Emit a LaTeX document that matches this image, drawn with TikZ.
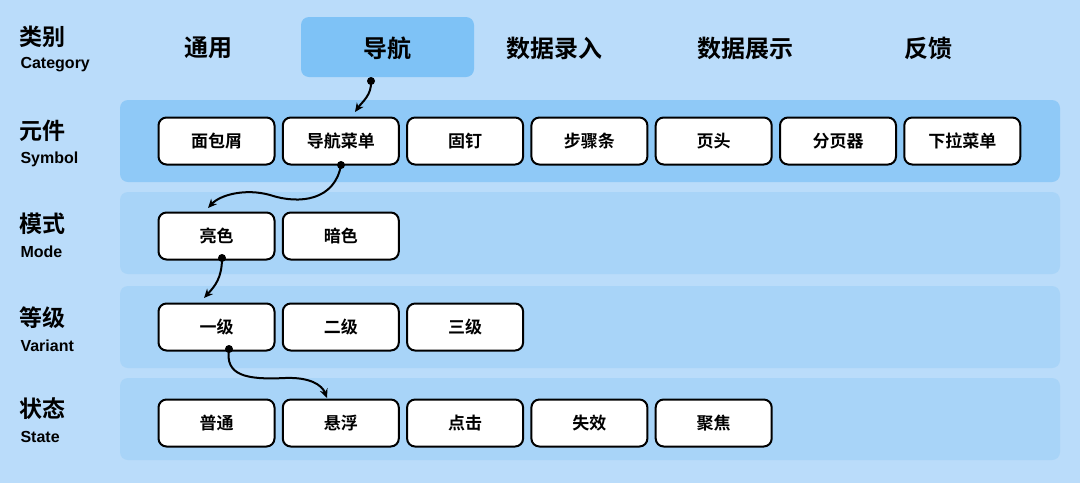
\documentclass[tikz,border=0pt]{standalone}
\usepackage{fontspec}
\setmainfont{Liberation Sans}
\newfontfamily\cjk{Noto Sans CJK SC Bold}
\usetikzlibrary{arrows.meta}
\definecolor{bg}{HTML}{BADCFA}
\definecolor{bandA}{HTML}{8FC9F7}
\definecolor{bandB}{HTML}{A8D4F8}
\definecolor{hl}{HTML}{7EC2F6}
\tikzset{
 item/.style={draw=black,line width=2pt,fill=white,rounded corners=8pt,minimum width=116pt,minimum height=47pt,font=\cjk\fontsize{17}{17}\selectfont},
 cat/.style={font=\cjk\fontsize{24}{24}\selectfont},
 lzh/.style={anchor=west,font=\cjk\fontsize{23}{23}\selectfont},
 len/.style={anchor=west,font=\bfseries\fontsize{16}{16}\selectfont},
 flow/.style={line width=2pt,-{Stealth[length=9pt,width=8pt]}},
 dot/.style={circle,fill=black,inner sep=0pt,minimum size=8pt}
}
\begin{document}
\begin{tikzpicture}[x=1pt,y=-1pt]
\fill[bg] (0,0) rectangle (1080,483);
\useasboundingbox (0,0) rectangle (1080,483);
\fill[bandA,rounded corners=8pt] (120,100) rectangle (1060,182);
\fill[bandB,rounded corners=8pt] (120,192) rectangle (1060,274);
\fill[bandB,rounded corners=8pt] (120,286) rectangle (1060,368);
\fill[bandB,rounded corners=8pt] (120,378) rectangle (1060,460);
\fill[hl,rounded corners=8pt] (301,17) rectangle (474,77);
% left labels
\node[lzh] (l1) at (16,37) {类别};
\node[len] (e1) at (17,65) {Category};
\node[lzh] (l2) at (16,131) {元件};
\node[len] (e2) at (17,159) {Symbol};
\node[lzh] (l3) at (16,224) {模式};
\node[len] (e3) at (17,252) {Mode};
\node[lzh] (l4) at (16,318) {等级};
\node[len] (e4) at (17,346) {Variant};
\node[lzh] (l5) at (16,409) {状态};
\node[len] (e5) at (17,437) {State};
% categories
\node[cat] (c1) at (208,48) {通用};
\node[cat] (c2) at (387,48) {导航};
\node[cat] (c3) at (554,48) {数据录入};
\node[cat] (c4) at (745,48) {数据展示};
\node[cat] (c5) at (928,48) {反馈};
% symbol row
\foreach \t [count=\i] in {面包屑,导航菜单,固钉,步骤条,页头,分页器,下拉菜单}
  \node[item] (s\i) at ({216.5+124.3*(\i-1)},141) {\t};
\node[item] (m1) at (216.5,236) {亮色};
\node[item] (m2) at (340.8,236) {暗色};
\node[item] (v1) at (216.5,327) {一级};
\node[item] (v2) at (340.8,327) {二级};
\node[item] (v3) at (465.1,327) {三级};
\foreach \t [count=\i] in {普通,悬浮,点击,失效,聚焦}
  \node[item] (t\i) at ({216.5+124.3*(\i-1)},423) {\t};
% connectors
\coordinate (a0) at (371,81);
\node[dot] at (a0) {};
\draw[flow] (a0) .. controls (372,95) and (362,102) .. (355,112);
\coordinate (b0) at (341,165);
\node[dot] at (b0) {};
\draw[flow] (b0) .. controls (335,200) and (300,205) .. (270,195) .. controls (245,188) and (220,195) .. (208,208);
\coordinate (d0) at (222,258);
\node[dot] at (d0) {};
\draw[flow] (d0) .. controls (222,278) and (215,286) .. (204,298);
\coordinate (f0) at (229,349);
\node[dot] at (f0) {};
\draw[flow] (f0) .. controls (225,375) and (245,380) .. (285,378) .. controls (310,377) and (322,385) .. (327,398);
\end{tikzpicture}
\end{document}
